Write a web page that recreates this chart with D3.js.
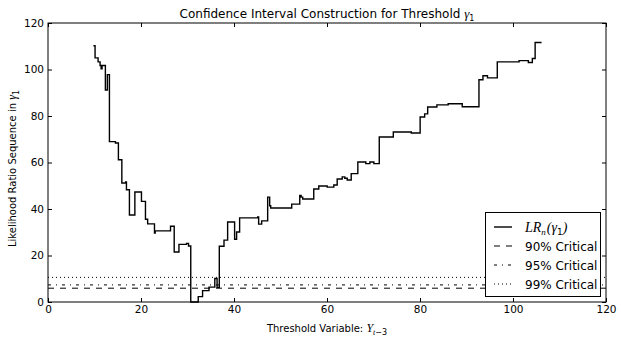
<!DOCTYPE html>
<html>
<head>
<meta charset="utf-8">
<script src="https://cdn.jsdelivr.net/npm/d3@7"></script>
<style>
  html, body { margin: 0; padding: 0; background: #ffffff; }
  svg { display: block; }
  text { font-family: "DejaVu Sans", sans-serif; fill: #000; }
  .math { font-family: "Liberation Serif", serif; font-style: italic; }
</style>
</head>
<body>
<svg id="chart" width="621" height="343"></svg>
<script>
// Threshold grid (candidate values of the threshold variable)
const gammaGrid = [
  9.76, 10.12, 10.77, 11.20, 11.42, 11.63, 12.34, 12.77, 13.21, 14.50,
  15.14, 15.88, 16.70, 16.87, 17.51, 18.68, 20.10, 20.96, 21.43, 22.90,
  23.05, 26.35, 27.14, 28.16, 29.79, 30.22, 30.70, 32.31, 33.24, 34.62,
  35.87, 36.36, 36.84, 37.85, 38.63, 40.13, 40.56, 41.21, 45.09, 45.30,
  45.95, 47.24, 47.67, 47.89, 52.41, 54.14, 54.44, 54.78, 57.15, 58.23,
  60.04, 61.46, 62.19, 63.27, 63.83, 64.35, 65.21, 66.63, 68.35, 69.22,
  70.08, 71.24, 74.26, 78.13, 80.03, 81.00, 81.65, 83.63, 86.06, 89.08,
  92.68, 93.54, 94.51, 96.62, 101.31, 103.30, 104.16, 104.76, 106.14
];
// Likelihood ratio statistic LR_n(gamma_1) at each grid value
const lrValues = [
  110.2, 105.0, 103.3, 101.7, 100.3, 101.7, 91.2, 97.8, 69.0, 68.4,
  61.2, 51.2, 51.6, 48.3, 37.4, 47.3, 43.3, 35.6, 33.6, 29.7,
  30.6, 32.6, 21.5, 24.8, 25.2, 24.1, 0.0, 2.3, 4.9, 6.4,
  10.1, 6.3, 24.0, 26.6, 34.4, 27.0, 30.1, 36.2, 36.6, 33.5,
  34.9, 45.1, 41.4, 40.4, 42.1, 45.8, 45.1, 44.3, 48.6, 49.9,
  49.4, 50.3, 52.9, 53.8, 53.2, 52.5, 55.2, 60.2, 59.5, 60.2,
  59.5, 71.0, 73.1, 72.7, 79.6, 80.9, 83.9, 84.8, 85.3, 84.0,
  95.6, 97.3, 96.4, 103.3, 103.8, 103.0, 104.7, 111.6, 111.6
];
// Critical values of the LR statistic
const criticalLabels = ["90% Critical", "95% Critical", "99% Critical"];
const criticalValues = [5.94, 7.35, 10.59];
const criticalDash = ["6,6", "3,5,1,5", "1,3"];
// Axis ticks
const xTicks = [0, 20, 40, 60, 80, 100, 120];
const yTicks = [0, 20, 40, 60, 80, 100, 120];

const svg = d3.select("#chart");
const margin = { left: 48, right: 15, top: 23, bottom: 41 };
const W = 621, H = 343;
const x = d3.scaleLinear().domain([0, 120]).range([margin.left, W - margin.right]);
const y = d3.scaleLinear().domain([0, 120]).range([H - margin.bottom, margin.top]);

const plot = svg.append("g");

// critical value lines
criticalValues.forEach((v, i) => {
  plot.append("line")
    .attr("x1", x(0)).attr("x2", x(120))
    .attr("y1", y(v)).attr("y2", y(v))
    .attr("stroke", "#000").attr("stroke-width", 1)
    .attr("stroke-dasharray", criticalDash[i]);
});

// LR sequence as a step function
const pts = gammaGrid.map((g, i) => [g, lrValues[i]]);
plot.append("path")
  .datum(pts)
  .attr("fill", "none")
  .attr("stroke", "#000")
  .attr("stroke-width", 1.4)
  .attr("d", d3.line().x(d => x(d[0])).y(d => y(d[1])).curve(d3.curveStepAfter));

// axes with inward ticks on all four sides
const tickFont = g => g.selectAll("text").attr("font-size", 10.5).attr("font-family", "DejaVu Sans").attr("fill", "#000");
const clean = g => { g.select(".domain").remove(); g.selectAll("line").attr("stroke", "#000"); };

svg.append("g").attr("transform", `translate(0,${y(0)})`)
  .call(d3.axisBottom(x).tickValues(xTicks).tickFormat(d3.format("d")).tickSizeInner(-4).tickSizeOuter(0).tickPadding(4))
  .call(clean).call(tickFont);
svg.append("g").attr("transform", `translate(0,${y(120)})`)
  .call(d3.axisTop(x).tickValues(xTicks).tickFormat("").tickSizeInner(-4).tickSizeOuter(0))
  .call(clean);
svg.append("g").attr("transform", `translate(${x(0)},0)`)
  .call(d3.axisLeft(y).tickValues(yTicks).tickFormat(d3.format("d")).tickSizeInner(-4).tickSizeOuter(0).tickPadding(4))
  .call(clean).call(tickFont);
svg.append("g").attr("transform", `translate(${x(120)},0)`)
  .call(d3.axisRight(y).tickValues(yTicks).tickFormat("").tickSizeInner(-4).tickSizeOuter(0))
  .call(clean);

// frame
svg.append("rect")
  .attr("x", x(0)).attr("y", y(120))
  .attr("width", x(120) - x(0)).attr("height", y(0) - y(120))
  .attr("fill", "none").attr("stroke", "#000").attr("stroke-width", 1);

// title
const title = svg.append("text")
  .attr("x", (x(0) + x(120)) / 2).attr("y", 18)
  .attr("text-anchor", "middle").attr("font-size", 12);
title.append("tspan").text("Confidence Interval Construction for Threshold ");
title.append("tspan").attr("class", "math").attr("font-size", 13).text("γ");
title.append("tspan").attr("font-size", 8).attr("dy", 3).text("1");

// x axis label
const xl = svg.append("text")
  .attr("x", (x(0) + x(120)) / 2).attr("y", 332)
  .attr("text-anchor", "middle").attr("font-size", 10);
xl.append("tspan").text("Threshold Variable: ");
xl.append("tspan").attr("class", "math").attr("font-size", 12).text("Y");
xl.append("tspan").attr("class", "math").attr("font-size", 8).attr("dy", 3).text("t");
xl.append("tspan").attr("font-size", 8).text("−3");

// y axis label
const yl = svg.append("text")
  .attr("transform", `translate(16,${(y(0) + y(120)) / 2 + 6}) rotate(-90)`)
  .attr("text-anchor", "middle").attr("font-size", 10);
yl.append("tspan").text("Likelihood Ratio Sequence in ");
yl.append("tspan").attr("class", "math").attr("font-size", 12).text("γ");
yl.append("tspan").attr("font-size", 8).attr("dy", 3).text("1");

// legend
const lg = svg.append("g");
lg.append("rect")
  .attr("x", 485.5).attr("y", 212.5).attr("width", 115).attr("height", 84)
  .attr("fill", "#fff").attr("stroke", "#000").attr("stroke-width", 1);
const rowY = [227, 246, 265, 284];
const entries = [{ dash: null, label: null }].concat(criticalLabels.map((l, i) => ({ dash: criticalDash[i], label: l })));
entries.forEach((e, i) => {
  const ln = lg.append("line")
    .attr("x1", 494).attr("x2", 512)
    .attr("y1", rowY[i]).attr("y2", rowY[i])
    .attr("stroke", "#000").attr("stroke-width", i === 0 ? 1.4 : 1);
  if (e.dash) ln.attr("stroke-dasharray", e.dash);
  const t = lg.append("text").attr("x", 525).attr("y", rowY[i] + 4.5).attr("font-size", 12);
  if (e.label) {
    t.text(e.label);
  } else {
    t.append("tspan").attr("class", "math").attr("font-size", 14).text("LR");
    t.append("tspan").attr("class", "math").attr("font-size", 9).attr("dy", 3).text("n");
    t.append("tspan").attr("class", "math").attr("font-size", 14).attr("dy", -3).attr("dx", 1).text("(γ");
    t.append("tspan").attr("font-size", 9).attr("dy", 3).text("1");
    t.append("tspan").attr("class", "math").attr("font-size", 14).attr("dy", -3).text(")");
  }
});
</script>
</body>
</html>
